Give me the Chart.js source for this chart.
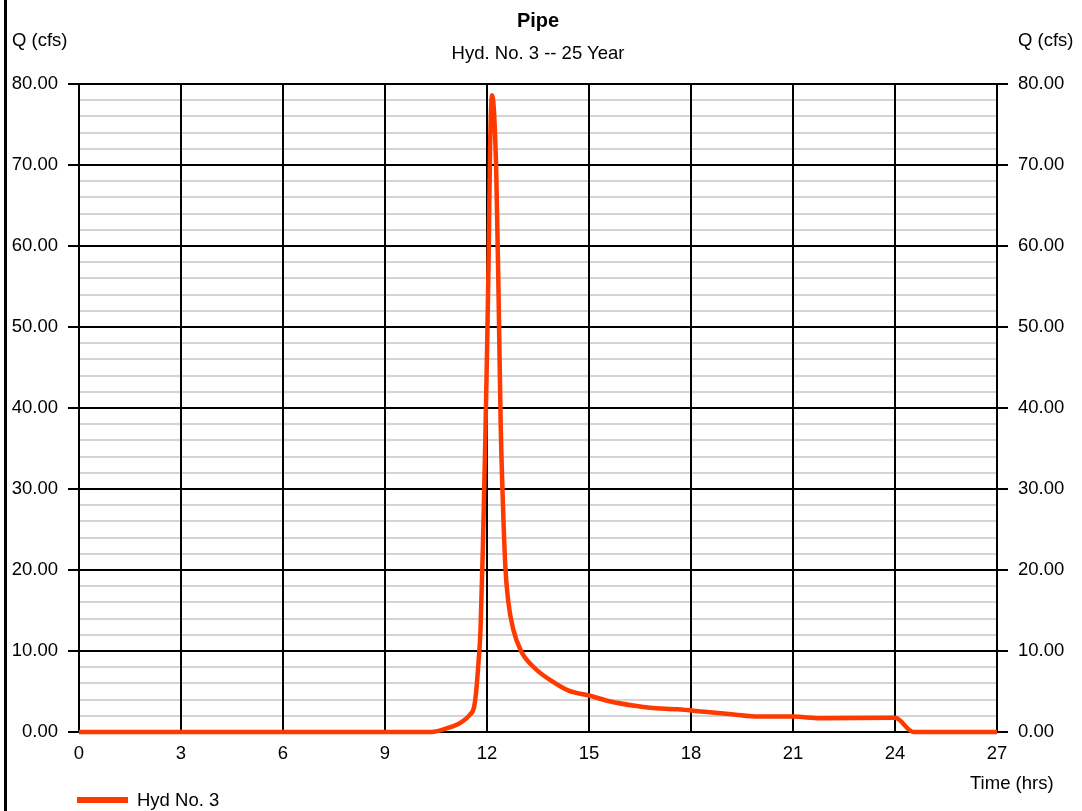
<!DOCTYPE html>
<html>
<head>
<meta charset="utf-8">
<script src="https://cdn.jsdelivr.net/npm/chart.js@4.4.1/dist/chart.umd.min.js"></script>
<style>
  html, body { margin: 0; padding: 0; background: #fff; overflow: hidden; }
  #wrap { position: relative; width: 1082px; height: 811px; }
  .lbl { position: absolute; font-family: "Liberation Sans", Arial, sans-serif; font-size: 18.5px; line-height: 20px; color: #000; white-space: nowrap; }
  .edge { position: absolute; left: 4px; top: 0; width: 3px; height: 811px; background: #000; }
</style>
</head>
<body>
<div id="wrap">
  <canvas id="chart"></canvas>
  <div class="edge"></div>
  <div class="lbl" style="left:438px;top:9px;width:200px;text-align:center;font-weight:bold;font-size:20px;line-height:22px">Pipe</div>
  <div class="lbl" style="left:338px;top:43px;width:400px;text-align:center">Hyd. No. 3 -- 25 Year</div>
  <div class="lbl" style="left:12px;top:30px">Q (cfs)</div>
  <div class="lbl" style="left:1018px;top:30px">Q (cfs)</div>
  <div class="lbl" style="left:970px;top:773px">Time (hrs)</div>
  <div style="position:absolute;left:77px;top:797px;width:51px;height:6px;background:rgb(255,58,0)"></div>
  <div class="lbl" style="left:137px;top:790px">Hyd No. 3</div>
</div>
<script>
// hydrograph: time (hrs) vs flow (cfs)
const times = [0, 10.36, 10.85, 11.24, 11.49, 11.62, 11.68, 11.73, 11.81, 11.88, 11.95, 12.01, 12.05, 12.09, 12.15,
               12.27, 12.34, 12.40, 12.47, 12.54, 12.62, 12.77, 13.0, 13.4, 13.9, 14.4, 15.0, 15.6,
               16.4, 16.8, 17.6, 18.4, 19.2, 20.0, 21.0, 21.8, 24.0, 24.55, 27];
const flows = [0, 0, 0.5, 1.2, 2.1, 3.1, 4.9, 7.5, 12.7, 23, 36, 49, 59, 72, 78.6,
               69.5, 54, 38.5, 28, 20.4, 16.3, 12.7, 10.0, 7.9, 6.3, 5.1, 4.5, 3.8,
               3.2, 3.0, 2.8, 2.5, 2.2, 1.9, 1.9, 1.7, 1.75, 0, 0];

const xTicks = [0, 3, 6, 9, 12, 15, 18, 21, 24, 27];
const yMajor = [0, 10, 20, 30, 40, 50, 60, 70, 80];

const RED = 'rgb(255,58,0)';
const FONT = { family: '"Liberation Sans", Arial, sans-serif', size: 18.5 };

Chart.defaults.color = '#000';
Chart.defaults.font.family = FONT.family;

const isMajor = v => yMajor.includes(v);

new Chart(document.getElementById('chart'), {
  type: 'line',
  data: {
    datasets: [{
      label: 'Hyd No. 3',
      data: times.map((t, i) => ({ x: t, y: flows[i] })),
      borderColor: RED,
      backgroundColor: RED,
      borderWidth: 4.5,
      pointRadius: 0,
      cubicInterpolationMode: 'monotone',
      clip: false
    }]
  },
  options: {
    responsive: true,
    maintainAspectRatio: false,
    animation: false,
    layout: { padding: { top: 84, left: 0, right: 0, bottom: 0 } },
    plugins: { legend: { display: false }, tooltip: { enabled: false } },
    scales: {
      x: {
        type: 'linear', min: 0, max: 27,
        afterBuildTicks: s => { s.ticks = xTicks.map(v => ({ value: v })); },
        afterFit: s => { s.height = 79; },
        // vertical lines go over the grey minor lines
        grid: { color: '#000', lineWidth: 2, drawTicks: false, z: -0.5 },
        border: { color: '#000', width: 2 },
        ticks: { font: FONT, padding: 11, autoSkip: false, maxRotation: 0, callback: v => String(v) }
      },
      y: {
        type: 'linear', position: 'left', min: 0, max: 80,
        afterFit: s => { s.width = 79; },
        grid: {
          color: c => isMajor(c.tick.value) ? '#000' : '#d4d4d4',
          tickColor: c => isMajor(c.tick.value) ? '#000' : 'rgba(0,0,0,0)',
          lineWidth: 2, tickLength: 11
        },
        border: { color: '#000', width: 2 },
        ticks: {
          stepSize: 2, autoSkip: false, font: FONT, padding: 10,
          callback: v => isMajor(v) ? v.toFixed(2) : ''
        }
      },
      y2: {
        type: 'linear', position: 'right', min: 0, max: 80,
        afterFit: s => { s.width = 85; },
        grid: {
          drawOnChartArea: false,
          tickColor: c => isMajor(c.tick.value) ? '#000' : 'rgba(0,0,0,0)',
          lineWidth: 2, tickLength: 11
        },
        border: { color: '#000', width: 2 },
        ticks: {
          stepSize: 2, autoSkip: false, font: FONT, padding: 10,
          callback: v => isMajor(v) ? v.toFixed(2) : ''
        }
      }
    }
  }
});
</script>
</body>
</html>
